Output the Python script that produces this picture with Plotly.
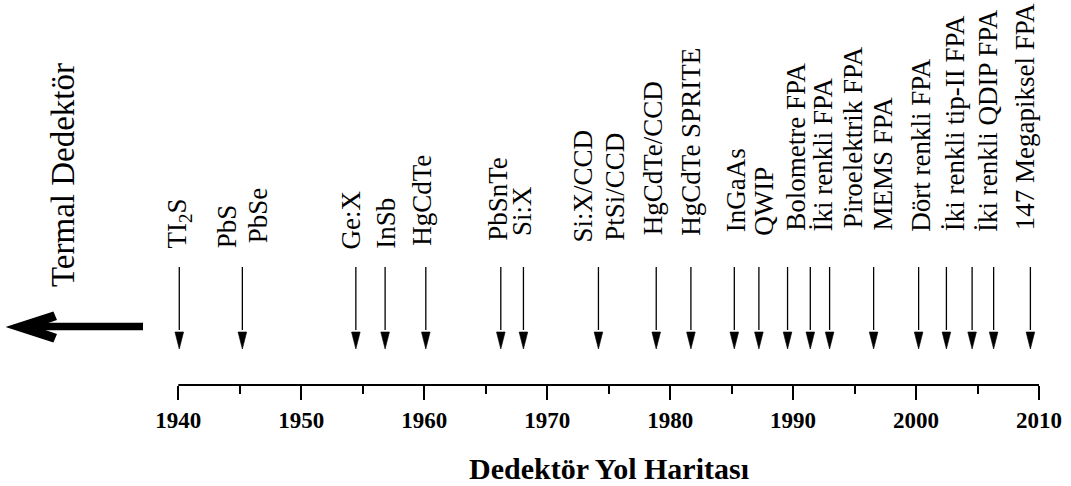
import plotly.graph_objects as go

# ---------------- data ----------------
tick_years = [1940, 1950, 1960, 1970, 1980, 1990, 2000, 2010]
tick_text = [str(y) for y in tick_years]
minor_years = [1945, 1955, 1965, 1975, 1985, 1995, 2005]

arrow_years = [1940.08, 1945.21, 1954.44, 1956.82, 1960.13, 1966.23, 1968.07,
               1974.17, 1978.87, 1981.69, 1985.22, 1987.22, 1989.55, 1991.40,
               1992.97, 1996.55, 2000.21, 2002.47, 2004.56, 2006.31, 2009.30]

labels = ["TI<sub>2</sub>S", "PbS", "PbSe", "Ge:X", "InSb", "HgCdTe", "PbSnTe",
          "Si:X", "Si:X/CCD", "PtSi/CCD", "HgCdTe/CCD", "HgCdTe SPRITE",
          "InGaAs", "QWIP", "Bolometre FPA", "İki renkli FPA",
          "Piroelektrik FPA", "MEMS FPA", "Dört renkli FPA",
          "İki renkli tip-II FPA", "İki renkli QDIP FPA", "147 Megapiksel FPA"]
label_years = [1940.07, 1943.96, 1946.51, 1954.04, 1956.88, 1959.87, 1966.01,
               1968.01, 1972.89, 1975.53, 1978.58, 1981.70, 1985.36, 1987.67,
               1990.24, 1992.42, 1994.86, 1997.30, 2000.41, 2003.13, 2005.84,
               2008.83]

x_title = "Dedektör Yol Haritası"
left_text = "Termal Dedektör"

# ---------------- layout geometry ----------------
W, H = 1071, 486
ML, MR, MT, MB = 0, 32, 0, 101
PLOT_W = W - ML - MR
PLOT_H = H - MT - MB
PX_PER_YEAR = 12.296
X_MIN = 1940 - 178.3 / PX_PER_YEAR
X_MAX = 2010

# label baselines (height above the axis line, in plot units = px)
label_base = [135.7, 135.7, 141.0, 135.0, 135.7, 138.3, 143.3, 147.7, 141.7,
              143.3, 148.3, 148.3, 151.7, 148.3, 153.3, 152.3, 155.7, 153.3,
              152.3, 152.3, 152.3, 153.3]

SHAFT_TOP = 118
HEAD_BASE = 53
TIP = 36
HEAD_HW = 4.3 / PX_PER_YEAR

FONT = "Liberation Serif, Times New Roman, serif"


def pxx(px):
    return (px - ML) / PLOT_W


def pxy(py):
    return (H - MB - py) / PLOT_H


fig = go.Figure()

# arrow shafts
sx, sy = [], []
for yr in arrow_years:
    sx += [yr, yr, None]
    sy += [SHAFT_TOP, HEAD_BASE + 2, None]
fig.add_trace(go.Scatter(x=sx, y=sy, mode="lines",
                         line=dict(color="black", width=1.3),
                         hoverinfo="skip", showlegend=False))

# arrow heads
hx, hy = [], []
for yr in arrow_years:
    hx += [yr - HEAD_HW, yr + HEAD_HW, yr, yr - HEAD_HW, None]
    hy += [HEAD_BASE, HEAD_BASE, TIP, HEAD_BASE, None]
fig.add_trace(go.Scatter(x=hx, y=hy, mode="lines", fill="toself",
                         fillcolor="black",
                         line=dict(color="black", width=0.6),
                         hoverinfo="skip", showlegend=False))

# labels
for txt, yr, base in zip(labels, label_years, label_base):
    fig.add_annotation(x=yr, y=base, xref="x", yref="y", text=txt,
                       textangle=-90, showarrow=False,
                       xanchor="center", yanchor="bottom", borderpad=0,
                       font=dict(family=FONT, size=27, color="black"))

# left rotated text
fig.add_annotation(x=pxx(63), y=pxy(175), xref="paper", yref="paper",
                   text=left_text, textangle=-90, showarrow=False,
                   xanchor="center", yanchor="middle", borderpad=0,
                   font=dict(family=FONT, size=33, color="black"))

# axis title
fig.add_annotation(x=(tick_years[0] + tick_years[-1]) / 2, y=pxy(468),
                   xref="x", yref="paper", text=x_title, showarrow=False,
                   xanchor="center", yanchor="middle", borderpad=0,
                   font=dict(family=FONT, size=30, color="black",
                             weight="bold"))

shapes = []
# axis baseline from first to last tick
shapes.append(dict(type="line", xref="x", yref="paper",
                   x0=tick_years[0], x1=tick_years[-1], y0=0, y1=0,
                   line=dict(color="black", width=2)))
# big left arrow
shapes.append(dict(type="line", xref="paper", yref="paper",
                   x0=pxx(30), x1=pxx(143), y0=pxy(326.5), y1=pxy(326.5),
                   line=dict(color="black", width=7.5)))
head = [(8, 327), (53, 312.5), (56, 319.5), (34, 327), (56, 334.5), (53, 341.5)]
path = "M" + " L".join(f"{pxx(a):.5f},{pxy(b):.5f}" for a, b in head) + " Z"
shapes.append(dict(type="path", xref="paper", yref="paper", path=path,
                   fillcolor="black", line=dict(color="black", width=1.5)))

fig.update_layout(
    width=W, height=H,
    margin=dict(l=ML, r=MR, t=MT, b=MB),
    paper_bgcolor="white", plot_bgcolor="white",
    showlegend=False,
    hovermode=False,
    shapes=shapes,
    xaxis=dict(range=[X_MIN, X_MAX], showgrid=False, zeroline=False,
               showline=False,
               tickmode="array", tickvals=tick_years, ticktext=tick_text,
               ticks="outside", ticklen=14, tickwidth=2, tickcolor="black",
               ticklabelstandoff=0,
               tickfont=dict(family=FONT, size=23, color="black",
                             weight="bold"),
               minor=dict(tickmode="array", tickvals=minor_years,
                          ticks="outside", ticklen=8, tickwidth=2,
                          tickcolor="black", showgrid=False),
               fixedrange=True),
    yaxis=dict(range=[0, PLOT_H], visible=False, showgrid=False,
               zeroline=False, fixedrange=True),
)

fig.write_html("out.html", config={"displayModeBar": False},
               post_script="document.body.style.margin='0';"
                           "document.body.style.overflow='hidden';")
